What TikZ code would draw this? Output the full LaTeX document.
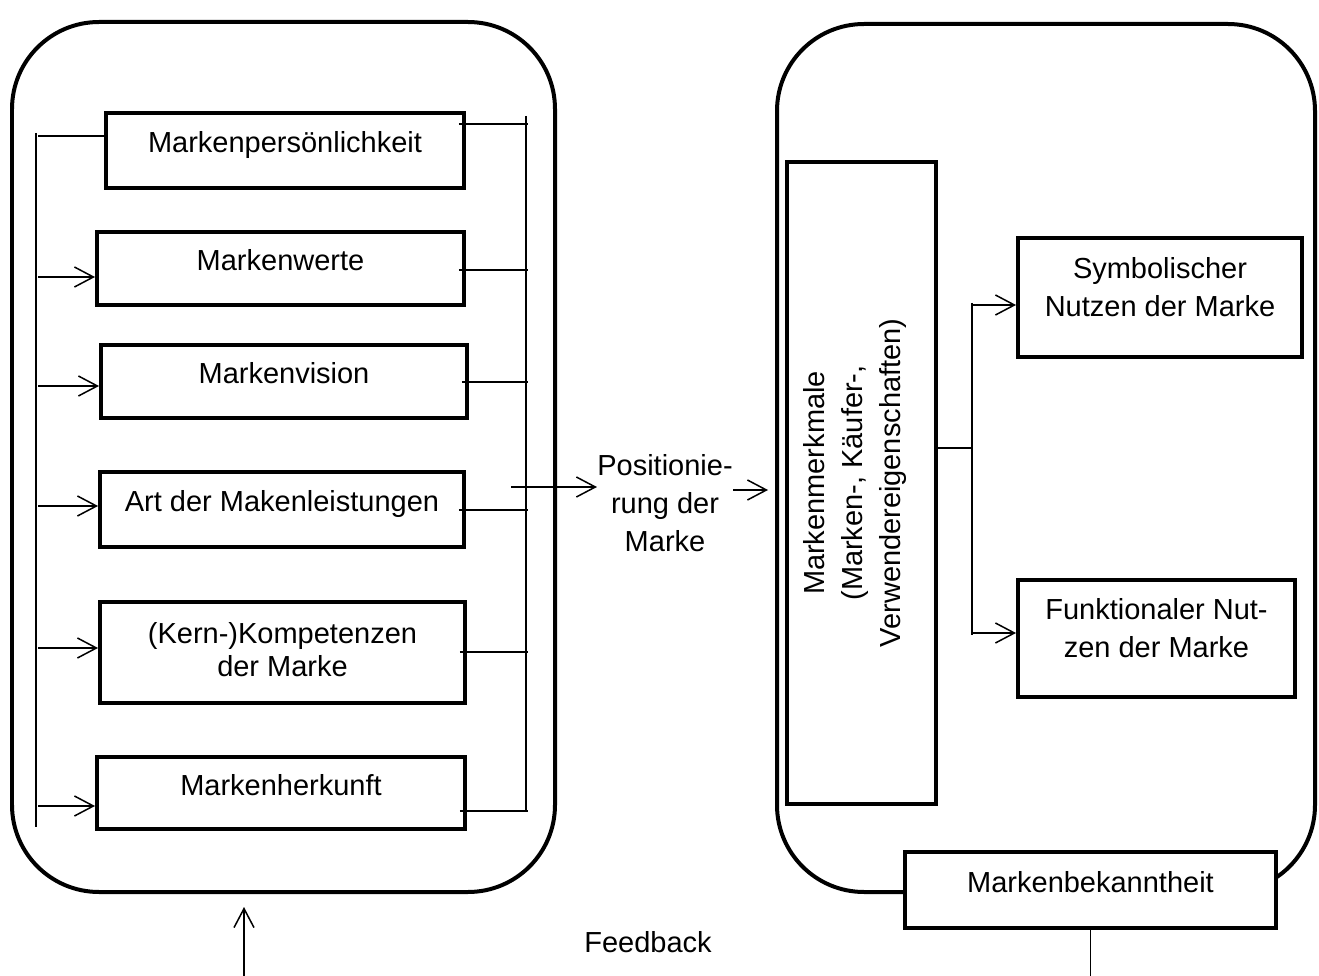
\documentclass[tikz,border=0pt]{standalone}
\usepackage{fontspec}
\setmainfont{Liberation Sans}
\usetikzlibrary{arrows.meta,positioning}
\tikzset{kbox/.style={draw, line width=0.08cm, fill=white, inner sep=0pt, align=center}}
\tikzset{onebox/.style={kbox, text height=0.75em, text depth=0.5em}}
\tikzset{arr/.style={draw, -{Straight Barb[length=0.38cm,width=0.4cm]}, line width=0.03cm}}
\tikzset{lin/.style={draw, line width=0.03cm}}
\tikzset{panel/.style={draw, line width=0.08cm, rounded corners=1.74cm}}

\begin{document}
\begin{tikzpicture}[x=0.02cm, y=-0.02cm, font=\fontsize{16.5}{21.5}\selectfont]
\useasboundingbox (0,0) rectangle (1319,976);

% the two panels
\draw[panel] (12,22) rectangle (555,892);
\draw[panel] (777,24) rectangle (1315,892);

% left panel
\node[onebox, minimum width=7.16cm, minimum height=1.5cm] (pers) at (285,150.5) {Markenpersönlichkeit};
\node[onebox, minimum width=7.34cm, minimum height=1.46cm] (werte) at (280.5,268.5) {Markenwerte};
\node[onebox, minimum width=7.32cm, minimum height=1.46cm] (vision) at (284,381.5) {Markenvision};
\node[onebox, minimum width=7.28cm, minimum height=1.5cm] (art) at (282,509.5) {Art der Makenleistungen};
\node[kbox, minimum width=7.3cm, minimum height=2.02cm,
  label={[align=center, yshift=0.05cm]center:{(Kern-)Kompetenzen\\[-2.8pt]der Marke}}] (komp) at (282.5,652.5) {};
\node[onebox, minimum width=7.36cm, minimum height=1.44cm] (herk) at (281,793) {Markenherkunft};

\coordinate (lt) at (36,133);
\coordinate (lb) at (36,827);
\draw[lin] (pers.west |- 0,136) -- (38,136);
\draw[lin] (lt) -- (lb);
\foreach \b/\y in {werte/277, vision/386, art/506, komp/648, herk/806}
  \draw[arr] (38,\y) -- (\b.west |- 0,\y);

\coordinate (rt) at (526,116);
\coordinate (rb) at (526,811);
\draw[lin] (rt) -- (rb);
\foreach \b/\y in {pers/124, werte/270, vision/382, art/510, komp/652, herk/811}
  \draw[lin, shorten <=-0.14cm] (\b.east |- 0,\y) -- (528,\y);

% positioning
\node[inner sep=0pt, align=center] (pos) at (665,503) {Positionie-\\rung der\\Marke};
\coordinate (bk) at (511,487);
\draw[arr] (bk) -- (pos.west |- 0,487);

% right panel
\node[kbox, rotate=90, minimum width=12.84cm, minimum height=2.98cm,
  label={[xshift=-0.13cm, rotate=90, align=center]center:{Markenmerkmale\\(Marken-, Käufer-,\\Verwendereigenschaften)}}] (merk) at (861.5,483) {};
\node[kbox, minimum width=5.68cm, minimum height=2.38cm,
  label={[align=center, yshift=0.2cm]center:{Symbolischer\\Nutzen der Marke}}] (sym) at (1160,297.5) {};
\node[kbox, minimum width=5.54cm, minimum height=2.34cm,
  label={[align=center, yshift=0.2cm]center:{Funktionaler Nut-\\zen der Marke}}] (funk) at (1156.5,638.5) {};

\draw[arr, shorten >=0.34cm] (pos.east |- 0,490) -- (merk.north |- 0,490);

\coordinate (st) at (972,303);
\coordinate (sb) at (972,635);
\draw[lin] (merk.south |- 0,448) -- (972,448);
\draw[lin] (st) -- (sb);
\draw[arr] (972,305) -- (sym.west |- 0,305);
\draw[arr] (972,633) -- (funk.west |- 0,633);

% bottom
\node[onebox, minimum width=7.42cm, minimum height=1.52cm] (bek) at (1090.5,890) {Markenbekanntheit};
\draw[lin] (bek.south) -- (bek.south |- 0,976);

\node (fb) at (648,942) {Feedback};
\coordinate (fbin) at (244,976);
\draw[arr] (fbin) -- (244,907);
\end{tikzpicture}
\end{document}
